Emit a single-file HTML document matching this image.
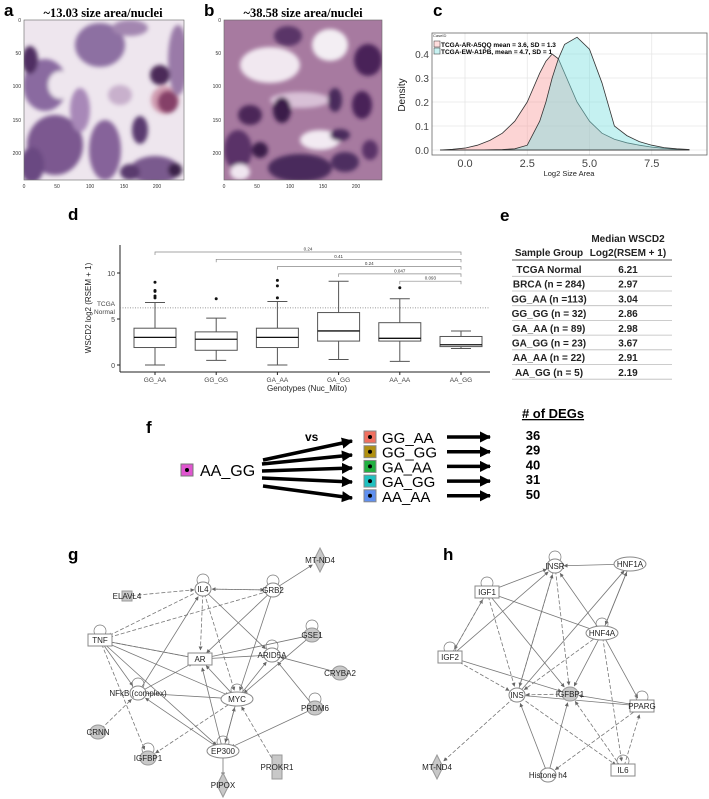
<!DOCTYPE html>
<html><head><meta charset="utf-8">
<style>
body{margin:0;background:#fff;width:709px;height:799px;overflow:hidden;font-family:"Liberation Sans",sans-serif}
svg{position:absolute;left:0;top:0}
</style></head><body>
<svg id="s" width="709" height="799" viewBox="0 0 709 799" font-family="Liberation Sans, sans-serif">
<defs>
<marker id="ah" viewBox="0 0 10 10" refX="9" refY="5" markerWidth="5" markerHeight="5" orient="auto"><path d="M0,0L10,5L0,10z" fill="#666"/></marker>
<marker id="bh" viewBox="0 0 10 10" refX="9" refY="5" markerWidth="3.2" markerHeight="3.2" orient="auto"><path d="M0,0L10,5L0,10z" fill="#000"/></marker>
<filter id="bl"><feGaussianBlur stdDeviation="2"/></filter>
<clipPath id="ca"><rect x="24" y="20" width="160" height="160"/></clipPath>
<clipPath id="cb"><rect x="224" y="20" width="158" height="160"/></clipPath>
</defs>

<g font-weight="bold" font-size="17">
<text x="4" y="16">a</text><text x="204" y="16">b</text><text x="433" y="16">c</text>
<text x="68" y="220">d</text><text x="500" y="221">e</text><text x="146" y="433">f</text>
<text x="68" y="560">g</text><text x="443" y="560">h</text></g>

<g>
<text x="103" y="17" font-family="Liberation Serif, serif" font-weight="bold" font-size="12.5" text-anchor="middle">~13.03 size area/nuclei</text>
<rect x="24" y="20" width="160" height="160" fill="#eee6ee"/>
<g filter="url(#bl)" clip-path="url(#ca)">
<ellipse cx="45" cy="85" rx="22" ry="26" fill="#8a6aa0"/><ellipse cx="60" cy="85" rx="12" ry="14" fill="#eee6ee"/>
<ellipse cx="100" cy="45" rx="25" ry="22" fill="#8d70a2"/>
<ellipse cx="55" cy="145" rx="28" ry="30" fill="#7b5890"/><ellipse cx="105" cy="150" rx="16" ry="30" fill="#86649a"/>
<ellipse cx="168" cy="102" rx="10" ry="11" fill="#5a2f60"/><ellipse cx="165" cy="100" rx="14" ry="14" fill="#b05070" opacity="0.5"/>
<ellipse cx="155" cy="170" rx="25" ry="14" fill="#7a5a8e"/>
<ellipse cx="178" cy="60" rx="10" ry="35" fill="#9a7aa8"/><ellipse cx="160" cy="75" rx="10" ry="10" fill="#4c2a58"/>
<ellipse cx="32" cy="165" rx="12" ry="18" fill="#6b4a82"/><ellipse cx="130" cy="28" rx="18" ry="8" fill="#a386b0"/>
<ellipse cx="30" cy="60" rx="8" ry="14" fill="#4f2e62"/><ellipse cx="140" cy="130" rx="8" ry="14" fill="#5a3a70"/>
<ellipse cx="175" cy="170" rx="7" ry="7" fill="#3a2048"/><ellipse cx="130" cy="172" rx="10" ry="8" fill="#5a3a6e"/>
<ellipse cx="80" cy="110" rx="10" ry="22" fill="#a888b8"/><ellipse cx="120" cy="95" rx="12" ry="10" fill="#c8b0cc"/></g>
<rect x="24" y="20" width="160" height="160" fill="none" stroke="#666" stroke-width="0.6"/>
<g font-size="5" fill="#333"><text x="21" y="22" text-anchor="end">0</text><text x="21" y="55" text-anchor="end">50</text><text x="21" y="88" text-anchor="end">100</text><text x="21" y="122" text-anchor="end">150</text><text x="21" y="155" text-anchor="end">200</text>
<text x="24" y="188" text-anchor="middle">0</text><text x="57" y="188" text-anchor="middle">50</text><text x="90" y="188" text-anchor="middle">100</text><text x="124" y="188" text-anchor="middle">150</text><text x="157" y="188" text-anchor="middle">200</text></g></g>

<g>
<text x="303" y="17" font-family="Liberation Serif, serif" font-weight="bold" font-size="12.5" text-anchor="middle">~38.58 size area/nuclei</text>
<rect x="224" y="20" width="158" height="160" fill="#a77aa0"/>
<g filter="url(#bl)" clip-path="url(#cb)">
<ellipse cx="270" cy="65" rx="30" ry="18" fill="#f1e8f0"/><ellipse cx="330" cy="45" rx="18" ry="16" fill="#f3eef3"/>
<ellipse cx="300" cy="100" rx="30" ry="8" fill="#d8c0d6"/>
<ellipse cx="320" cy="140" rx="20" ry="10" fill="#f2eaf2"/><ellipse cx="250" cy="115" rx="12" ry="10" fill="#4c2858"/>
<ellipse cx="282" cy="110" rx="9" ry="13" fill="#3a1a48"/><ellipse cx="368" cy="60" rx="14" ry="16" fill="#4a2258"/>
<ellipse cx="362" cy="105" rx="10" ry="14" fill="#4a2258"/><ellipse cx="335" cy="100" rx="7" ry="12" fill="#4a2a5c"/>
<ellipse cx="300" cy="168" rx="32" ry="14" fill="#4a2a5c"/>
<ellipse cx="238" cy="150" rx="14" ry="20" fill="#5a3268"/><ellipse cx="345" cy="162" rx="14" ry="10" fill="#4e2e60"/>
<ellipse cx="288" cy="36" rx="14" ry="10" fill="#5a3468"/><ellipse cx="260" cy="150" rx="8" ry="8" fill="#3a1a48"/>
<ellipse cx="240" cy="172" rx="10" ry="8" fill="#f0e6f0"/><ellipse cx="340" cy="135" rx="10" ry="6" fill="#4a2a5c"/>
<ellipse cx="370" cy="150" rx="8" ry="10" fill="#5a3268"/></g>
<rect x="224" y="20" width="158" height="160" fill="none" stroke="#666" stroke-width="0.6"/>
<g font-size="5" fill="#333"><text x="221" y="22" text-anchor="end">0</text><text x="221" y="55" text-anchor="end">50</text><text x="221" y="88" text-anchor="end">100</text><text x="221" y="122" text-anchor="end">150</text><text x="221" y="155" text-anchor="end">200</text>
<text x="224" y="188" text-anchor="middle">0</text><text x="257" y="188" text-anchor="middle">50</text><text x="290" y="188" text-anchor="middle">100</text><text x="323" y="188" text-anchor="middle">150</text><text x="356" y="188" text-anchor="middle">200</text></g></g>

<g id="pc"></g>
<g id="pd"></g>

<g font-family="Liberation Sans, sans-serif" font-weight="bold" font-size="10" fill="#222">
<text x="628" y="242" text-anchor="middle">Median WSCD2</text>
<text x="549" y="256" text-anchor="middle">Sample Group</text><text x="628" y="256" text-anchor="middle">Log2(RSEM + 1)</text>
<line x1="512" y1="260" x2="672" y2="260" stroke="#555" stroke-width="1"/>
<g id="trows"></g></g>

<g>
<rect x="181" y="464" width="12" height="12" fill="#e055d0" stroke="#777"/><circle cx="187" cy="470" r="2" fill="#000"/>
<text x="200" y="476" font-size="16">AA_GG</text>
<text x="305" y="441" font-size="12" font-weight="bold">vs</text>
<g stroke="#000" stroke-width="3.5" marker-end="url(#bh)">
<line x1="263" y1="460" x2="352" y2="441"/><line x1="262" y1="464" x2="352" y2="455"/><line x1="262" y1="471" x2="352" y2="468"/><line x1="262" y1="478" x2="352" y2="482"/><line x1="263" y1="486" x2="352" y2="498"/></g>
<g id="frows"></g>
<text x="553" y="418" font-size="13" font-weight="bold" text-anchor="middle" text-decoration="underline">#&#160;of DEGs</text>
</g>

<g id="pg"></g>
<g id="ph"></g>
</svg>
<script>
var NS="http://www.w3.org/2000/svg";
function mk(p,t,a,txt){var e=document.createElementNS(NS,t);for(var k in a)e.setAttribute(k,a[k]);if(txt!==undefined)e.textContent=txt;p.appendChild(e);return e;}

var densX=[-1,-0.5,0,0.5,1,1.5,2,2.5,3,3.25,3.5,3.75,4,4.5,5,5.5,6,6.5,7,7.5,8,8.5,9];
var densA=[0,0.003,0.008,0.02,0.04,0.07,0.12,0.2,0.32,0.37,0.40,0.38,0.32,0.2,0.12,0.07,0.045,0.03,0.02,0.012,0.007,0.003,0.001];
var densB=[0,0,0,0,0.001,0.002,0.005,0.02,0.12,0.2,0.3,0.38,0.44,0.47,0.42,0.28,0.1,0.06,0.035,0.02,0.01,0.005,0.002];
var cTicksX=[0,2.5,5,7.5], cTicksY=[0,0.1,0.2,0.3,0.4];
(function(){
 var g=document.getElementById('pc');
 var L=432,R=707,T=33,B=155;
 function X(v){return 465+v*24.9;} function Y(v){return 150-v*240;}
 mk(g,'rect',{x:L,y:T,width:R-L,height:B-T,fill:'#fff'});
 cTicksX.forEach(function(t){mk(g,'line',{x1:X(t),x2:X(t),y1:T,y2:B,stroke:'#e6e6e6','stroke-width':0.8});
  var e=mk(g,'text',{x:X(t),y:B+12,'font-size':11,fill:'#444','text-anchor':'middle'},t.toFixed(1));
  });
 cTicksY.forEach(function(t){mk(g,'line',{x1:L,x2:R,y1:Y(t),y2:Y(t),stroke:'#e6e6e6','stroke-width':0.8});
  var e=mk(g,'text',{x:L-3,y:Y(t)+4,'font-size':10,fill:'#444','text-anchor':'end'},t.toFixed(1));
  });
 function area(arr,fill,name){var d='M'+X(densX[0])+','+Y(0);densX.forEach(function(x,i){d+='L'+X(x)+','+Y(arr[i]);});d+='L'+X(densX[densX.length-1])+','+Y(0)+'Z';
  var p=mk(g,'path',{d:d,fill:fill,'fill-opacity':0.45,stroke:'#333','stroke-width':0.8});
  }
 area(densA,'#f8a0a0','density-a5qq');area(densB,'#7fe0e0','density-a1pb');
 mk(g,'rect',{x:L,y:T,width:R-L,height:B-T,fill:'none',stroke:'#666','stroke-width':0.8});
 mk(g,'text',{x:569,y:176,'font-size':7.5,'text-anchor':'middle',fill:'#222'},'Log2 Size Area');
 mk(g,'text',{x:0,y:0,'font-size':10,fill:'#222','text-anchor':'middle',transform:'translate(405,95) rotate(-90)'},'Density');
 mk(g,'text',{x:433,y:37,'font-size':4,fill:'#333'},'CaseID');
 mk(g,'rect',{x:434,y:41,width:6,height:6,fill:'#fdd',stroke:'#333','stroke-width':0.5});
 mk(g,'text',{x:441,y:47,'font-size':6.5,'font-weight':'bold'},'TCGA-AR-A5QQ mean = 3.6, SD = 1.3');
 mk(g,'rect',{x:434,y:48,width:6,height:6,fill:'#c8f2f2',stroke:'#333','stroke-width':0.5});
 mk(g,'text',{x:441,y:54,'font-size':6.5,'font-weight':'bold'},'TCGA-EW-A1PB, mean = 4.7, SD = 1');
})();

var boxCats=['GG_AA','GG_GG','GA_AA','GA_GG','AA_AA','AA_GG'];
var boxMin=[0,0.5,0,0.6,0.4,1.8];
var boxQ1=[1.9,1.6,1.9,2.6,2.6,2.0];
var boxMed=[3.0,2.8,3.0,3.7,2.9,2.2];
var boxQ3=[4.0,3.6,4.0,5.7,4.6,3.1];
var boxMax=[6.8,5.1,6.9,9.1,7.2,3.7];
var boxOut=[[7.3,7.5,8.0,8.1,9.0],[7.2],[7.3,8.6,9.2],[],[8.4],[]];
var pLabels=['0.24','0.41','0.24','0.047','0.093'];
var dTicks=[0,5,10];
var tcgaNormal=6.21;
(function(){
 var g=document.getElementById('pd');
 function Y(v){return 365-v*9.2;} function X(i){return 155+i*61.2;}
 mk(g,'line',{x1:120,y1:245,x2:120,y2:372,stroke:'#222','stroke-width':1});
 mk(g,'line',{x1:120,y1:372,x2:490,y2:372,stroke:'#222','stroke-width':1});
 dTicks.forEach(function(t){mk(g,'line',{x1:117,x2:120,y1:Y(t),y2:Y(t),stroke:'#222'});
  var e=mk(g,'text',{x:115,y:Y(t)+3,'font-size':7,fill:'#444','text-anchor':'end'},t);
  });
 mk(g,'line',{x1:120,x2:490,y1:Y(tcgaNormal),y2:Y(tcgaNormal),stroke:'#777','stroke-dasharray':'1,1.5','stroke-width':0.8});
 mk(g,'text',{x:115,y:306,'font-size':6.5,fill:'#444','text-anchor':'end'},'TCGA');
 mk(g,'text',{x:115,y:314,'font-size':6.5,fill:'#444','text-anchor':'end'},'Normal');
 mk(g,'text',{x:0,y:0,'font-size':8,fill:'#222','text-anchor':'middle',transform:'translate(91,308) rotate(-90)'},'WSCD2 log2 (RSEM + 1)');
 mk(g,'text',{x:307,y:391,'font-size':8,fill:'#222','text-anchor':'middle'},'Genotypes (Nuc_Mito)');
 boxCats.forEach(function(c,i){var x=X(i),w=21;
  var b=mk(g,'g',{});
  mk(b,'line',{x1:x,x2:x,y1:Y(boxMin[i]),y2:Y(boxQ1[i]),stroke:'#555'});
  mk(b,'line',{x1:x,x2:x,y1:Y(boxQ3[i]),y2:Y(boxMax[i]),stroke:'#555'});
  mk(b,'line',{x1:x-10,x2:x+10,y1:Y(boxMin[i]),y2:Y(boxMin[i]),stroke:'#555'});
  mk(b,'line',{x1:x-10,x2:x+10,y1:Y(boxMax[i]),y2:Y(boxMax[i]),stroke:'#555'});
  mk(b,'rect',{x:x-w,y:Y(boxQ3[i]),width:2*w,height:Y(boxQ1[i])-Y(boxQ3[i]),fill:'#fff',stroke:'#555'});
  mk(b,'line',{x1:x-w,x2:x+w,y1:Y(boxMed[i]),y2:Y(boxMed[i]),stroke:'#111','stroke-width':1.3});
  boxOut[i].forEach(function(o){mk(b,'circle',{cx:x,cy:Y(o),r:1.5,fill:'#111'});});
  mk(g,'line',{x1:x,x2:x,y1:372,y2:375,stroke:'#222'});
  var e=mk(g,'text',{x:x,y:382,'font-size':6.5,fill:'#444','text-anchor':'middle'},c);
  });
 pLabels.forEach(function(p,i){var y=252+i*7.3,x1=X(i),x2=X(5);
  var e=mk(g,'path',{d:'M'+x1+','+(y+3)+'V'+y+'H'+x2+'V'+(y+3),fill:'none',stroke:'#888','stroke-width':0.7});
  
  mk(g,'text',{x:(x1+x2)/2,y:y-1.5,'font-size':4.5,fill:'#333','text-anchor':'middle'},p);});
})();

var tblGroups=['TCGA Normal','BRCA (n = 284)','GG_AA (n =113)','GG_GG (n = 32)','GA_AA (n = 89)','GA_GG (n = 23)','AA_AA (n = 22)','AA_GG (n = 5)'];
var tblMedians=['6.21','2.97','3.04','2.86','2.98','3.67','2.91','2.19'];
(function(){var g=document.getElementById('trows');
 tblGroups.forEach(function(t,i){var y=269+i*14.7;
  var r=mk(g,'g',{});
  mk(r,'text',{x:549,y:y+4,'text-anchor':'middle'},t);mk(r,'text',{x:628,y:y+4,'text-anchor':'middle'},tblMedians[i]);
  mk(r,'line',{x1:512,x2:672,y1:y+7.3,y2:y+7.3,stroke:'#bbb','stroke-width':0.8});});})();

var fGroups=['GG_AA','GG_GG','GA_AA','GA_GG','AA_AA'];
var fColors=['#f07060','#b09010','#20b040','#20c0c0','#6090f0'];
var degCounts=[36,29,40,31,50];
(function(){var g=document.getElementById('frows');
 fGroups.forEach(function(t,i){var y=437+i*14.7;
  var r=mk(g,'g',{});
  mk(r,'rect',{x:364,y:y-6,width:12,height:12,fill:fColors[i],stroke:'#888'});
  mk(r,'circle',{cx:370,cy:y,r:2,fill:'#000'});
  mk(r,'text',{x:382,y:y+6,'font-size':15},t);
  mk(r,'line',{x1:447,x2:490,y1:y,y2:y,stroke:'#000','stroke-width':3.5,'marker-end':'url(#bh)'});
  mk(r,'text',{x:533,y:y+3,'font-size':13,'font-weight':'bold','text-anchor':'middle'},degCounts[i]);});})();

function net(id,nodes,edges){var g=document.getElementById(id);
 var P={};nodes.forEach(function(n){P[n[0]]=n;});
 edges.forEach(function(e){var a=P[e[0]],b=P[e[1]];var dx=b[1]-a[1],dy=b[2]-a[2],L=Math.sqrt(dx*dx+dy*dy),s=9/L;
  var l=mk(g,'line',{x1:a[1]+dx*s*0.5,y1:a[2]+dy*s*0.5,x2:b[1]-dx*s,y2:b[2]-dy*s,stroke:'#777','stroke-width':0.8,'marker-end':'url(#ah)'});
  if(e[2])l.setAttribute('stroke-dasharray','4,2');
  });
 nodes.forEach(function(n){var x=n[1],y=n[2],sh=n[3],lab=n[4]||n[0];
  var q=mk(g,'g',{});
  if(n[5])mk(q,'circle',{cx:x,cy:y-9,r:6,fill:'none',stroke:'#777','stroke-width':0.7});
  if(sh=='c')mk(q,'ellipse',{cx:x,cy:y,rx:8,ry:7,fill:'#fff',stroke:'#888'});
  if(sh=='cg')mk(q,'ellipse',{cx:x,cy:y,rx:8,ry:7,fill:'#c8c8c8',stroke:'#999'});
  if(sh=='e')mk(q,'ellipse',{cx:x,cy:y,rx:16,ry:7,fill:'#fff',stroke:'#888'});
  if(sh=='r')mk(q,'rect',{x:x-12,y:y-6,width:24,height:12,fill:'#fff',stroke:'#888'});
  if(sh=='rg')mk(q,'rect',{x:x-5,y:y-12,width:10,height:24,fill:'#c8c8c8',stroke:'#999'});
  if(sh=='sq')mk(q,'rect',{x:x-5,y:y-5,width:10,height:10,fill:'#c8c8c8',stroke:'#999'});
  if(sh=='d')mk(q,'path',{d:'M'+x+','+(y-12)+'L'+(x+6)+','+y+'L'+x+','+(y+12)+'L'+(x-6)+','+y+'Z',fill:'#c8c8c8',stroke:'#999'});
  mk(q,'text',{x:x,y:y+3,'font-size':8,'text-anchor':'middle',fill:'#222'},lab);});}
net('pg',[
 ['IL4',203,589,'c',0,1],['GRB2',273,590,'c',0,1],['ELAVL4',127,596,'sq'],['TNF',100,640,'r',0,1],['AR',200,659,'r'],
 ['ARID5A',272,655,'c',0,1],['GSE1',312,635,'cg',0,1],['CRYBA2',340,673,'cg'],['NFKB',138,693,'c','NFkB (complex)',1],
 ['MYC',237,699,'e',0,1],['PRDM6',315,708,'cg',0,1],['CRNN',98,732,'cg'],['EP300',223,751,'e',0,1],['IGFBP1',148,758,'cg',0,1],
 ['PROKR1',277,767,'rg'],['PIPOX',223,785,'d'],['MTND4',320,560,'d','MT-ND4']],
 [['ELAVL4','IL4',1],['IL4','GRB2',1],['GRB2','IL4',1],['IL4','TNF',1],['GRB2','TNF',1],['TNF','AR'],['TNF','AR',1],['TNF','MYC'],['TNF','NFKB'],
 ['TNF','IGFBP1',1],['TNF','EP300'],['IL4','AR',1],['IL4','MYC',1],['NFKB','IL4'],['GRB2','MYC'],['GRB2','AR'],['ARID5A','AR'],['GSE1','AR'],
 ['CRYBA2','ARID5A'],['PRDM6','ARID5A'],['MYC','ARID5A'],['GSE1','MYC'],['NFKB','AR'],['NFKB','MYC'],['MYC','AR'],['EP300','AR'],['EP300','MYC'],
 ['MYC','EP300'],['PRDM6','EP300'],['EP300','NFKB'],['CRNN','NFKB',1],['MYC','IGFBP1',1],['PROKR1','MYC',1],['EP300','PIPOX'],['GRB2','MTND4'],['IL4','ARID5A']]);
net('ph',[
 ['INSR',555,566,'c',0,1],['HNF1A',630,564,'e'],['IGF1',487,592,'r',0,1],['HNF4A',602,633,'e',0,1],['IGF2',450,657,'r',0,1],
 ['INS',517,695,'c'],['IGFBP1',570,694,'cg'],['PPARG',642,706,'r',0,1],['MTND4',437,767,'d','MT-ND4'],['H4',548,775,'c','Histone h4'],['IL6',623,770,'r',0,1]],
 [['HNF1A','INSR'],['IGF1','INSR'],['IGF2','INSR'],['INSR','INS',1],['INSR','IGFBP1',1],['INS','INSR'],['HNF4A','IGF1'],['HNF4A','INSR'],
 ['HNF1A','HNF4A'],['HNF4A','HNF1A'],['INS','HNF1A'],['IGF1','INS',1],['IGF1','IGFBP1'],['IGF2','IGF1',1],['IGF1','IGF2',1],['IGF2','INS',1],
 ['IGF2','IGFBP1'],['HNF4A','INS',1],['HNF4A','IGFBP1'],['HNF4A','PPARG'],['HNF4A','IL6',1],['IGFBP1','INS',1],['PPARG','IGFBP1'],['INS','PPARG'],
 ['INS','MTND4',1],['INS','IL6',1],['H4','INS'],['H4','IGFBP1'],['PPARG','H4',1],['IL6','PPARG',1],['IL6','IGFBP1',1]]);
</script>
</body></html>
